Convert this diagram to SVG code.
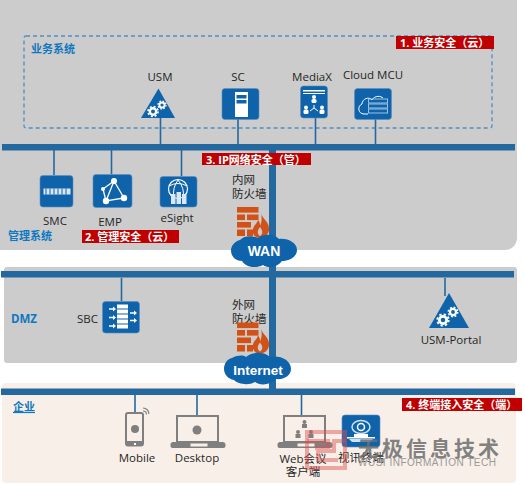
<svg xmlns="http://www.w3.org/2000/svg" width="525" height="485" viewBox="0 0 525 485">
<style>
text{font-family:"Open Sans","Noto Sans CJK SC","DejaVu Sans",sans-serif;font-size:11.5px;fill:#262626}
.c{text-anchor:middle}
.zone{font-weight:700;fill:#0f78c0;font-size:11px}
.badge rect{fill:#c00000}
.badge text{font-weight:700;fill:#fff;font-size:11px}
.tile{fill:#0f63ab;stroke:#5b8fbd;stroke-width:.6}
.bus{fill:#23699f}
.link{stroke:#23699f;stroke-width:1.6;fill:none}
.w{fill:#fff}
.wl{stroke:#fff;fill:none;stroke-width:1}
.brick{fill:#d25116}
.gr{fill:#7f7f7f}
.cl{fill:#0f63ab}
.cloudt{font-family:"Liberation Sans",sans-serif;font-weight:700;fill:#fff;text-anchor:middle;font-size:14px}
</style>
<defs>
<g id="gear"><circle r="3.2" fill="none" stroke="#fff" stroke-width="2.4"/><circle r="5" fill="none" stroke="#fff" stroke-width="1.6" stroke-dasharray="2 1.93"/></g>
<g id="fw">
<rect class="brick" x="0" y="0" width="21.500" height="5.600"/>
<rect class="brick" x="0" y="7.500" width="8" height="5.600"/><rect class="brick" x="10" y="7.500" width="11.500" height="5.600"/>
<rect class="brick" x="0" y="15" width="14" height="5.600"/>
<rect class="brick" x="0" y="22.500" width="8" height="6.500"/><rect class="brick" x="10" y="22.500" width="6" height="6.500"/>
<path d="M24 6C25 12 33 15 32 23C31.500 28 27 31 23 31C18 31 15 27 16 22C17 18 20 17 21 13C23 15 23 17 23 19C25 15 25 10 24 6Z" fill="#d25116"/>
<path d="M23 29C20 27 20 24 23 20C26 24 26 27 23 29Z" fill="#ccc"/>
</g>
<g id="laptop">
<rect x="1.500" y="1" width="41" height="26" fill="none" stroke="#7f7f7f" stroke-width="2"/>
<path d="M-3 27H47a3 3 0 0 1 3 2v2a2 2 0 0 1-2 2H-3a2 2 0 0 1-2-2v-2a3 3 0 0 1 2-2Z" fill="#7f7f7f"/>
<rect x="15" y="28.500" width="17" height="3" fill="#f8f0e8"/>
</g>
</defs>

<g id="zones">
<rect x="-12" y="-12" width="529" height="262" rx="12" fill="#cccccc"/>
<rect x="4" y="267" width="513" height="96" rx="3" fill="#cccccc"/>
<rect x="2" y="383" width="514" height="100" rx="4" fill="#f8f0e8"/>
<rect x="24" y="36" width="468" height="92" rx="2" fill="none" stroke="#4f8fc2" stroke-width="1.300" stroke-dasharray="4 3"/>
<text class="zone" x="31" y="53">业务系统</text>
<text class="zone" x="8" y="240">管理系统</text>
<text class="zone" x="11" y="323" style="font-size:11.500px">DMZ</text>
<text class="zone" x="13" y="411" text-decoration="underline">企业</text>
</g>

<g id="connectors">
<rect class="bus" x="2" y="144" width="513" height="6.500"/>
<rect class="bus" x="1" y="271" width="513" height="6.500"/>
<rect class="bus" x="1" y="388.500" width="514" height="6.500"/>
<rect class="bus" x="269" y="150" width="7" height="239"/>
<path class="link" d="M160.500 118V144M238 119V144M315.500 118V144M375.500 119V144M54 150V175M111.500 150V174M181.500 150V176M121.500 278V301M445 278V296M135 395V412M197 395V415M301.500 395V415"/>
</g>

<g id="node-usm">
<text class="c" x="160" y="81">USM</text>
<path d="M158.500 88.500L175 118H141Z" fill="#0f63ab"/>
<use href="#gear" x="153" y="111.500"/><use href="#gear" transform="translate(162 105) scale(.8)"/>
</g>
<g id="node-sc">
<text class="c" x="238" y="81">SC</text>
<rect class="tile" x="222" y="88.500" width="37" height="31" rx="3"/>
<rect class="w" x="235" y="92" width="13" height="25"/>
<rect x="236.500" y="95" width="10" height="3.500" fill="#0f63ab"/><rect x="236.500" y="100" width="10" height="3.500" fill="#0f63ab"/>
</g>
<g id="node-mediax">
<text class="c" x="312" y="81">MediaX</text>
<rect class="tile" x="300.500" y="86" width="27" height="32" rx="3"/>
<rect class="w" x="303" y="90" width="22" height="1.500"/><rect class="w" x="303" y="93" width="22" height="1"/>
<g class="w"><circle cx="314" cy="97" r="2"/><rect x="311.500" y="99" width="5" height="4" rx="1.500"/><circle cx="306" cy="107.500" r="2"/><rect x="303.500" y="109.500" width="5" height="4.500" rx="1.500"/><circle cx="322" cy="107.500" r="2"/><rect x="319.500" y="109.500" width="5" height="4.500" rx="1.500"/></g>
<path class="wl" d="M314 105V108M314 108L310 111M314 108L318 111"/>
</g>
<g id="node-cloudmcu">
<text class="c" x="373" y="79">Cloud MCU</text>
<rect class="tile" x="354.500" y="88.500" width="37" height="31" rx="3"/>
<path class="wl" d="M368 114H364C358 114 357 106 362 104C362 99 369 96 372 100C375 95 381 96 383 98"/>
<g fill="none" stroke="#9cc3e2" stroke-width="1"><rect x="368.500" y="99" width="19" height="4"/><rect x="368.500" y="104" width="19" height="4"/><rect x="368.500" y="109" width="19" height="4"/></g>
</g>
<g id="node-smc">
<text class="c" x="55" y="225">SMC</text>
<rect class="tile" x="40" y="175.500" width="33" height="31.500" rx="3"/>
<rect x="43.500" y="188.500" width="27" height="6" fill="#d9e8f4"/>
<path d="M46 188.500V194.500M50 188.500V194.500M54 188.500V194.500M58 188.500V194.500M62 188.500V194.500M66 188.500V194.500" stroke="#0f63ab" stroke-width="1"/>
</g>
<g id="node-emp">
<text class="c" x="110" y="226">EMP</text>
<rect class="tile" x="93" y="174.500" width="39" height="33" rx="3"/>
<path d="M114 181L106 201L124 198ZM114 181L103 189L106 201" fill="none" stroke="#fff" stroke-width="1.300"/>
<g class="w"><circle cx="114" cy="181" r="3"/><circle cx="103" cy="189" r="2"/><circle cx="106" cy="201" r="3.200"/><circle cx="124" cy="198" r="3.200"/></g>
</g>
<g id="node-esight">
<text class="c" x="177" y="222">eSight</text>
<rect class="tile" x="160" y="176.500" width="37" height="30.500" rx="3"/>
<circle cx="178" cy="189" r="9.500" fill="none" stroke="#fff" stroke-width="1.200"/>
<path class="wl" d="M169 186Q178 181 187 186M178 180Q172 188 174 198M178 180Q185 188 183 198" stroke-width=".7"/>
<rect x="171" y="194" width="4.500" height="10" fill="#d9e8f4"/><rect x="176.500" y="192" width="4.500" height="12" fill="#d9e8f4"/><rect x="182" y="194" width="4.500" height="10" fill="#d9e8f4"/>
</g>

<g id="node-fw1">
<text x="232" y="184">内网</text><text x="232" y="198">防火墙</text>
<use href="#fw" x="237" y="207"/>
</g>
<g id="node-wan">
<path class="cl" d="M240 240C246 234 255 237 258 238C264 233 275 234 279 239C288 238 297 243 297 250C297 257 289 261 282 261C278 267 268 269 263 265C256 269 245 267 242 261C235 261 231 256 231 250C231 246 235 241 240 240Z"/>
<text class="cloudt" x="264" y="255.500">WAN</text>
</g>
<g id="node-sbc">
<text x="98" y="323" text-anchor="end">SBC</text>
<rect class="tile" x="102.500" y="301.500" width="37" height="31.500" rx="3"/>
<g class="w"><rect x="117" y="304.500" width="11" height="4"/><rect x="117" y="309.500" width="11" height="4"/><rect x="117" y="314.500" width="11" height="4"/><rect x="117" y="319.500" width="11" height="4"/><rect x="117" y="324.500" width="11" height="4"/></g>
<path d="M109 309H114M109 317.500H114M109 326H114M130 313H135M130 320.500H135" stroke="#fff" stroke-width="1.500"/>
<path d="M113 306.500L116 309L113 311.500ZM113 315L116 317.500L113 320ZM113 323.500L116 326L113 328.500ZM134 310.500L137 313L134 315.500ZM134 318L137 320.500L134 323Z" fill="#fff"/>
</g>
<g id="node-fw2">
<text x="232" y="309">外网</text><text x="232" y="323">防火墙</text>
<use href="#fw" x="237" y="322.500"/>
</g>
<g id="node-internet">
<path class="cl" d="M232 358C238 355 243 355 246 357C252 351 265 352 270 357C280 355 291 360 291 369C291 376 283 380 276 379C271 385 260 386 255 382C248 386 238 384 234 380C228 379 224 374 224 369C224 364 227 359 232 358Z"/>
<text class="cloudt" x="258" y="375" style="font-size:13.500px">Internet</text>
</g>
<g id="node-usmportal">
<path d="M449 293L469 328H429Z" fill="#0f63ab"/>
<use href="#gear" transform="translate(443 320) scale(1.150)"/><use href="#gear" transform="translate(453 312) scale(.95)"/>
<text class="c" x="451" y="344">USM-Portal</text>
</g>

<g id="node-mobile">
<rect x="126" y="413" width="17" height="32.500" rx="2" fill="none" stroke="#7f7f7f" stroke-width="2"/>
<rect x="126" y="441" width="17" height="5" class="gr"/><rect x="134" y="443" width="2" height="2" fill="#fff"/>
<circle cx="135" cy="429" r="4" class="gr"/>
<path d="M143 408A6 6 0 0 1 149 414M143 411A3.500 3.500 0 0 1 146.500 414.500" fill="none" stroke="#7f7f7f" stroke-width="1.200"/>
<text class="c" x="137" y="462">Mobile</text>
</g>
<g id="node-desktop">
<use href="#laptop" x="175.500" y="415"/>
<circle cx="197" cy="430" r="4.500" class="gr"/>
<text class="c" x="197" y="462">Desktop</text>
</g>
<g id="node-web">
<use href="#laptop" x="282.500" y="415"/>
<g class="gr"><circle cx="304.500" cy="422" r="2"/><rect x="302" y="424" width="5" height="4"/><circle cx="298" cy="432" r="2"/><rect x="295.500" y="434" width="5" height="4"/><circle cx="311" cy="432" r="2"/><rect x="308.500" y="434" width="5" height="4"/></g>
<text class="c" x="303" y="463">Web会议</text><text class="c" x="303" y="476">客户端</text>
</g>
<g id="node-terminal">
<rect class="tile" x="342" y="415" width="38" height="32" rx="3"/>
<ellipse cx="361" cy="427" rx="9" ry="6.500" fill="none" stroke="#cfe2f1" stroke-width="1.500"/>
<circle cx="361" cy="427" r="3.500" fill="none" stroke="#fff" stroke-width="1.500"/>
<rect x="347" y="437" width="28" height="1.500" class="w"/><rect x="354" y="434" width="14" height="3" class="w"/><path d="M349 439H373L370 442H352Z" fill="#cfe2f1"/>
<text class="c" x="361" y="462">视讯终端</text>
</g>

<g id="badges">
<g class="badge"><rect x="396" y="36" width="98" height="13"/><text x="400" y="47">1. 业务安全（云）</text></g>
<g class="badge"><rect x="82" y="230" width="97" height="13"/><text x="85" y="241">2. 管理安全（云）</text></g>
<g class="badge"><rect x="202" y="153" width="109" height="12"/><text x="206" y="164">3. IP网络安全（管）</text></g>
<g class="badge"><rect x="402" y="398" width="120" height="13"/><text x="406" y="409">4. 终端接入安全（端）</text></g>
</g>

<g id="watermark" opacity=".85">
<g fill="none" stroke="#e05050" stroke-opacity=".55" stroke-width="4">
<rect x="307" y="432" width="38" height="36"/><path d="M307 441H328V448H315M345 441H334V451H318V460H338"/>
</g>
<text x="358" y="456" style="font-size:21px;font-weight:700;fill:#6e6e6e;letter-spacing:3px">无极信息技术</text>
<text x="358" y="466" style="font-size:10px;fill:#8a8a8a;font-family:'Liberation Sans',sans-serif;letter-spacing:.5px">WUSI INFORMATION TECH</text>
</g>
</svg>
